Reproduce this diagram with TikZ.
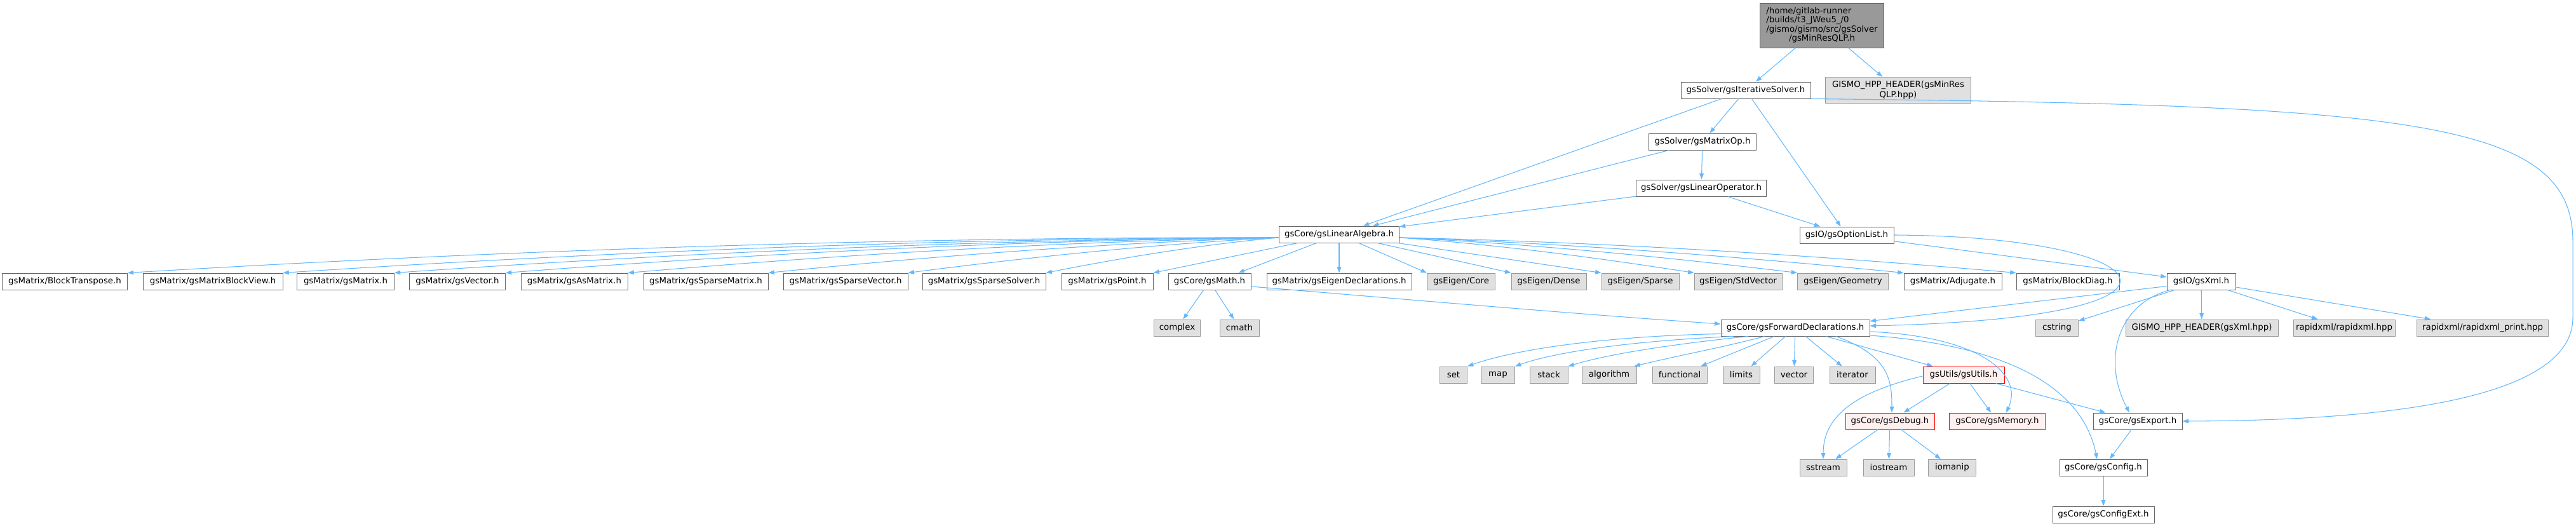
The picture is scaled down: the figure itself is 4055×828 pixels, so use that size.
\documentclass[tikz,border=0pt]{standalone}
\usepackage{fontspec}
\setmainfont{DejaVu Sans}
\usepackage{xcolor}
\usetikzlibrary{arrows.meta,calc}

\definecolor{edgeblue}{HTML}{63B8FF}
\definecolor{hdrline}{HTML}{666666}
\definecolor{sysfill}{HTML}{E0E0E0}
\definecolor{sysline}{HTML}{999999}
\definecolor{warnfill}{HTML}{FFF0F0}
\definecolor{rootfill}{HTML}{999999}

\tikzset{
  hdr/.style={draw=hdrline, fill=white, line width=0.75pt, inner xsep=2pt, inner ysep=0pt,
    minimum height=19.5pt, font=\fontsize{10}{12}\selectfont},
  sys/.style={hdr, draw=sysline, fill=sysfill},
  warn/.style={hdr, draw=red, fill=warnfill},
  root/.style={hdr, fill=rootfill, font=\fontsize{10}{10.7}\selectfont},
  bw/.style={minimum width=#1*0.75pt},
  bh/.style={minimum height=#1*0.75pt},
  dep/.style={draw=edgeblue, line width=0.8pt, -{Triangle[length=7pt,width=5pt]}}
}

\begin{document}
\begin{tikzpicture}[x=0.75pt,y=-0.75pt]
        \useasboundingbox (0,0) rectangle (4055,828);

        %%% TOP %%%
        \node[root, bw=195, bh=70] (main) at (2868,40) {\begin{tabular}{@{}l@{}}/home/gitlab-runner\\/builds/t3\_JWeu5\_/0\\/gismo/gismo/src/gsSolver\\\multicolumn{1}{@{}c@{}}{/gsMinResQLP.h}\end{tabular}};
        \node[hdr, bw=204] (iter) at (2748,142) {gsSolver/gsIterativeSolver.h};
        \node[sys, bw=229, bh=41, align=center] (minreshpp) at (2988,142) {GISMO\_HPP\_HEADER(gsMinRes\\QLP.hpp)};
        \node[hdr, bw=169] (matop) at (2680,223) {gsSolver/gsMatrixOp.h};
        \node[hdr, bw=205] (linop) at (2678,296) {gsSolver/gsLinearOperator.h};
        \node[hdr, bw=189] (la) at (2108,369) {gsCore/gsLinearAlgebra.h};
        \node[hdr, bw=148] (opt) at (2907,370) {gsIO/gsOptionList.h};

        %%% LINEAR ALGEBRA ROW %%%
        \node[hdr, bw=197] (bt) at (102,443) {gsMatrix/BlockTranspose.h};
        \node[hdr, bw=220] (bv) at (335,443) {gsMatrix/gsMatrixBlockView.h};
        \node[hdr, bw=153] (mat) at (544,443) {gsMatrix/gsMatrix.h};
        \node[hdr, bw=151] (vec) at (720,443) {gsMatrix/gsVector.h};
        \node[hdr, bw=168] (asm) at (904,443) {gsMatrix/gsAsMatrix.h};
        \node[hdr, bw=196] (spm) at (1111,443) {gsMatrix/gsSparseMatrix.h};
        \node[hdr, bw=196] (spv) at (1331,443) {gsMatrix/gsSparseVector.h};
        \node[hdr, bw=194] (sps) at (1549,443) {gsMatrix/gsSparseSolver.h};
        \node[hdr, bw=144] (pt) at (1743,443) {gsMatrix/gsPoint.h};
        \node[hdr, bw=130] (math) at (1904,443) {gsCore/gsMath.h};
        \node[hdr, bw=228] (eigd) at (2108,443) {gsMatrix/gsEigenDeclarations.h};
        \node[sys, bw=107] (core) at (2300,443) {gsEigen/Core};
        \node[sys, bw=118] (dense) at (2438,443) {gsEigen/Dense};
        \node[sys, bw=122] (sparse) at (2582,443) {gsEigen/Sparse};
        \node[sys, bw=138] (stdv) at (2736,443) {gsEigen/StdVector};
        \node[sys, bw=143] (geom) at (2901,443) {gsEigen/Geometry};
        \node[hdr, bw=154] (adj) at (3074,443) {gsMatrix/Adjugate.h};
        \node[hdr, bw=162] (bd) at (3255,443) {gsMatrix/BlockDiag.h};
        \node[hdr, bw=108] (xml) at (3465,443) {gsIO/gsXml.h};

        %%% FORWARD DECLARATIONS ROW %%%
        \foreach \n/\x/\w in {complex/1853/73, cmath/1951/62, cstring/3238/67}
            \node[sys, bw=\w] (\n) at (\x,516) {\n};
        \node[hdr, bw=234] (fwd) at (2826,516) {gsCore/gsForwardDeclarations.h};
        \node[sys, bw=240] (xmlhpp) at (3466,516) {GISMO\_HPP\_HEADER(gsXml.hpp)};
        \node[sys, bw=160] (rx) at (3690,516) {rapidxml/rapidxml.hpp};
        \node[sys, bw=207] (rxp) at (3908,516) {rapidxml/rapidxml\_print.hpp};

        %%% STD HEADERS & UTILS %%%
        \foreach \n/\x/\w in {set/2288/43, map/2358/53, stack/2438/60, algorithm/2533/86,
                              functional/2644/86, limits/2741/58, vector/2824/61, iterator/2916/72}
            \node[sys, bw=\w] (\n) at (\x,590) {\n};
        \node[warn, bw=128] (utils) at (3091,590) {gsUtils/gsUtils.h};
        \node[warn, bw=140] (debug) at (2975,663) {gsCore/gsDebug.h};
        \node[warn, bw=151] (memory) at (3144,663) {gsCore/gsMemory.h};
        \node[hdr, bw=140] (export) at (3365,663) {gsCore/gsExport.h};
        \foreach \n/\x/\w in {sstream/2870/74, iostream/2973/80, iomanip/3073/75}
            \node[sys, bw=\w] (\n) at (\x,736) {\n};
        \node[hdr, bw=138] (config) at (3311,736) {gsCore/gsConfig.h};
        \node[hdr, bw=160] (configext) at (3311,810) {gsCore/gsConfigExt.h};

        %%% SOLVER EDGES %%%
        \draw[dep] (main) -- (iter);
        \draw[dep] (main) -- (minreshpp);
        \draw[dep] (iter) -- (la);
        \draw[dep] (iter) -- (matop);
        \draw[dep] (iter) -- (opt);
        \draw[dep] (iter.south east) .. controls (3800,165) and (4050,190) .. (4050,380)
            -- (4050,500) .. controls (4050,640) and (3700,662) .. (export.east);
        \draw[dep] (matop) -- (la);
        \draw[dep] (matop) -- (linop);
        \draw[dep] (linop) -- (la);
        \draw[dep] (linop) -- (opt);
        \draw[dep] (opt) -- (xml);
        \draw[dep] (opt.east) .. controls (3400,372) and (3520,500) .. ($(fwd.east)+(0,-3)$);

        %%% LINEAR ALGEBRA EDGES %%%
        \foreach \t/\h in {bt/16, bv/14, mat/12, vec/11, asm/9, spm/7, spv/5, sps/4}
            \draw[dep] ($(la.west)+(0,5)$) .. controls ($(la.west)!0.33!(\t.north east)+(0,-\h)$)
                and ($(la.west)!0.67!(\t.north east)+(0,-\h)$) .. (\t.north east);
        \draw[dep] (la) -- (pt.north east);
        \draw[dep] (la) -- ($(math.north east)+(-20,0)$);
        \draw[dep] (la) -- (eigd);
        \draw[dep] (la) -- (core.north west);
        \draw[dep] (la) -- (dense.north west);
        \draw[dep] (la) -- (sparse.north west);
        \foreach \t/\h in {stdv/4, geom/5, adj/6, bd/8}
            \draw[dep] ($(la.east)+(0,5)$) .. controls ($(la.east)!0.33!(\t.north west)+(0,-\h)$)
                and ($(la.east)!0.67!(\t.north west)+(0,-\h)$) .. (\t.north west);

        %%% MATH & XML EDGES %%%
        \draw[dep] (math) -- (complex);
        \draw[dep] (math) -- (cmath);
        \draw[dep] ($(math.east)+(0,8)$) .. controls (2200,470) and (2450,492) .. ($(fwd.west)+(0,-6)$);
        \draw[dep] ($(xml.south west)+(0,-6)$) -- ($(fwd.north east)+(0,3)$);
        \draw[dep] (xml) -- (cstring);
        \draw[dep] (xml) -- (xmlhpp);
        \draw[dep] (xml) -- (rx);
        \draw[dep] (xml) -- (rxp);
        \draw[dep] ($(xml.south west)+(5,0)$) .. controls (3330,480) and (3310,570) .. ($(export.north)+(-13,0)$);

        %%% FORWARD DECLARATION EDGES %%%
        \draw[dep] ($(fwd.south west)+(3,-4)$) .. controls (2560,528) and (2400,545) .. (set.north east);
        \draw[dep] ($(fwd.south west)+(20,0)$) .. controls (2600,535) and (2460,550) .. (map.north east);
        \draw[dep] ($(fwd.south west)+(43,0)$) .. controls (2650,540) and (2540,555) .. (stack.north east);
        \draw[dep] ($(fwd.south west)+(69,0)$) .. controls (2720,545) and (2640,560) .. ($(algorithm.north east)+(-4,0)$);
        \foreach \t in {functional,limits,vector,iterator,utils}
            \draw[dep] (fwd) -- (\t);
        \draw[dep] ($(fwd.south)+(64,0)$) .. controls (2975,560) and (2978,600) .. ($(debug.north)+(3,0)$);
        \draw[dep] ($(fwd.east)+(0,6)$) .. controls (3120,530) and (3185,590) .. ($(memory.north)+(14,0)$);
        \draw[dep] ($(fwd.east)+(0,12)$) .. controls (3180,545) and (3280,620) .. ($(config.north)+(-10,0)$);

        %%% UTILS & DEBUG EDGES %%%
        \draw[dep] ($(utils.west)+(0,2)$) .. controls (2930,615) and (2870,650) .. (sstream.north);
        \draw[dep] (utils) -- (debug);
        \draw[dep] (utils) -- (memory);
        \draw[dep] (utils) -- (export);
        \draw[dep] (debug) -- (sstream);
        \draw[dep] (debug) -- (iostream);
        \draw[dep] (debug) -- (iomanip);
        \draw[dep] (export) -- (config);
        \draw[dep] (config) -- (configext);
\end{tikzpicture}
\end{document}
